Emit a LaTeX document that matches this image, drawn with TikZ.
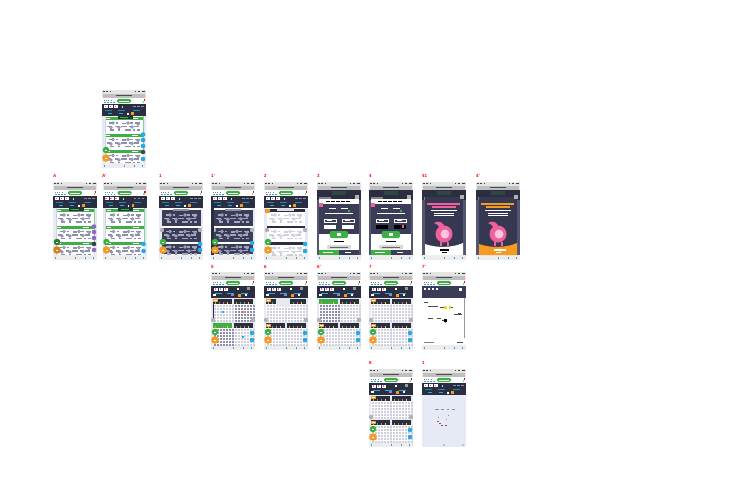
\documentclass[tikz,border=0pt]{standalone}
\usepackage{fontspec}
\setmainfont{Liberation Sans}
\definecolor{dk}{HTML}{2B2D40}
\definecolor{pale}{HTML}{E6EAF5}
\definecolor{gl}{HTML}{8E8FAF}
\definecolor{gn}{HTML}{3CB043}
\definecolor{og}{HTML}{F59A23}
\definecolor{bl}{HTML}{29A9E1}
\definecolor{pk}{HTML}{F0609E}
\definecolor{dp}{HTML}{3A3C58}
\definecolor{pu}{HTML}{8E6CC0}
\definecolor{hat}{HTML}{CFCFDC}
\tikzset{x=1pt,y=-1pt,lbl/.style={text=red,font=\bfseries\fontsize{4.5}{5}\selectfont,inner sep=0pt,anchor=south west}}
% chrome
\newcommand{\chrome}{%
 \fill[white] (0,0) rectangle (44,78);
 \fill[pale] (0,26) rectangle (44,73);
 \fill[black!10] (0,0) rectangle (44,8);
 \fill[black!25] (1,3.5) rectangle (43,7.5);
 \foreach \a/\b in {1/3,4/6,8/9,33/34,36/38,40/43}{\fill[black!75] (\a,1) rectangle (\b,2);}
 \fill[black!70] (14,5) rectangle (30,6);
 \fill[black!7] (0,73) rectangle (44,78);
 \foreach \a in {2,22,32,40}{\fill[bl] (\a,75) rectangle ++(1,1.5);}
}
\newcommand{\headbar}{%
 \fill[gn,rounded corners=1.6pt] (15,8.8) rectangle (29,13);
 \fill[white] (17,10.5) rectangle (27,11.3);
 \foreach \a in {2,4,6,9}{\fill[dk!60] (\a,9.8) rectangle ++(1,.8);}
 \foreach \a in {2,5,8,11}{\fill[bl] (\a,11.5) rectangle ++(1.5,.8);}
 \fill[red] (41.5,9) rectangle (43,10.5);
 \fill[gn!60] (40.5,10.5) rectangle (42,12.5);
}
\newcommand{\darkband}{%
 \fill[dk] (0,14) rectangle (44,26);
 \foreach \a in {2,7,12}{\fill[white] (\a,15) rectangle ++(4,3.2);\fill[pk] (\a+.6,15.6) rectangle ++(1.8,1.5);}
 \fill[white!80!dk] (20,16) rectangle ++(1,2);
 \foreach \a in {31,35,39}{\fill[gl] (\a,16) rectangle ++(2.5,.8);}
 \foreach \a in {3,16,31}{\fill[bl!80!black] (\a,20) rectangle ++(7,.9);}
 \fill[bl] (6,23) rectangle ++(4,.8);\fill[bl] (17,23) rectangle ++(4,.8);
 \fill[og] (29,22) rectangle ++(2.5,2.5);
 \fill[white] (25,23) rectangle ++(1.5,1.5);
}
% glyph block
\newcommand{\glyphs}[3]{%
 \begin{scope}[shift={(#1,#2)}]
  \foreach \dx/\dy/\w in {4/0/3,11/0/2,17/0.5/4,25/0/3,30/0/5,2/3.5/4,10/3.5/3,16/3.5/6,24/3.5/2,29/3.5/5,5/7/4,13/7/2,20/7/6,28/7/2,32/7/3}{\fill[#3] (\dx,\dy) rectangle ++(\w,1.8);}
  \foreach \dx/\dy in {8/1,23/1,14/5.5,27/5,6/5.5,33/2}{\draw[#3,line width=.8pt] (\dx,\dy) circle[radius=1.2];}
 \end{scope}}
\newcommand{\fabs}[3]{%
 \fill[#1] (4,60) circle[radius=3.3];
 \fill[#2] (4,68) circle[radius=3.8];
 \fill[white] (3,59.5) rectangle ++(2,1);
 \fill[white] (3,67.5) rectangle ++(2,1);
 \foreach \yy/\cc in {#3}{\fill[\cc] (41,\yy) circle[radius=2.3];}
}
\newcommand{\listscreen}[3]{%
 \fill[white] (3,26) rectangle (41,73);
 \foreach \yy in {27,44,60}{\fill[gn] (3,\yy) rectangle (41,\yy+3);\fill[white] (4,\yy+1) rectangle ++(4,.7);\fill[white] (30,\yy+1) rectangle ++(6,.7);}
 \fill[dk] (15.5,26) rectangle (30.5,29);
 \fill[gn] (18,27) rectangle ++(8,.8);
 \fill[gl!40] (2.5,26) rectangle (3,73);
 \fill[gn!60] (41,26) rectangle (41.5,62);
 \glyphs{3}{32}{gl}
 \glyphs{3}{48.5}{gl}
 \glyphs{3}{64.5}{gl}
 \fabs{#1}{#2}{#3}
}
\newcommand{\darklist}[2]{%
 \fill[white] (3,26) rectangle (41,73);
 \foreach \a/\b in {28/44,46/60,62/72}{\fill[dp] (2.5,\a) rectangle (41.5,\b);}
 \fill[gl] (14,26.5) rectangle (30,29);
 \glyphs{3}{32}{gl!80}
 \glyphs{3}{48.5}{gl!80}
 \glyphs{3}{64}{gl!80}
 \fill[black!30] (3,48) circle[radius=2.2];
 \fill[black!30] (41,48) circle[radius=2.2];
 #1
 \fabs{gn}{og}{#2}
}
\newcommand{\lightlist}{%
 \fill[white] (3,26) rectangle (41,73);
 \fill[dk] (3,26.8) rectangle (41,29.5);
 \fill[og] (1,27) rectangle (6,30.5);
 \fill[white!70!gl] (13,25.5) rectangle (30,28.5);
 \fill[dk] (3,44) rectangle (41,46);
 \fill[dk] (3,60) rectangle (41,63);
 \glyphs{3}{32}{hat}
 \glyphs{3}{48.5}{hat}
 \glyphs{3}{65}{hat}
 \fill[black!30] (3,48) circle[radius=2.2];
 \fill[black!30] (41,48) circle[radius=2.2];
 \fabs{gn}{og}{62/bl,69/bl}
}
% modal
\newcommand{\overlay}{%
 \fill[dk] (0,8) rectangle (44,73);
 \fill[dk!80!gn] (15,8.8) rectangle (29,13);
 \fill[dk!60] (2,15) rectangle (14,18);
 \fill[black!30] (38,13) rectangle (42,16.5);
 \fill[dp!70!gl] (0,18) rectangle (3,73);\fill[dp!70!gl] (41,18) rectangle (44,73);
}
\newcommand{\modal}[2]{%
 \overlay
 \fill[white] (2,17) rectangle (42,73);
 \fill[dp] (2,22) rectangle (42,52);
 \fill[pk] (2,21) rectangle (5.5,25);
 \foreach \a in {9,14,19,24,29}{\fill[black] (\a,19) rectangle ++(4,.8);}
 \foreach \a/\b in {12/20,24/32}{\fill[white!80] (\a,26) rectangle ++(7,1);}
 \fill[gn] (31,28) rectangle ++(1.5,2);
 \fill[white] (8,31) rectangle ++(28,1);
 \foreach \a/\b in {7/37,25/37}{\draw[white,line width=.5pt] (\a,\b) rectangle ++(12,3.5);}
 \foreach \a/\b in {7/43,25/43}{\fill[#1] (\a,\b) rectangle ++(12,3.5);}
 \fill[white] (10,38.2) rectangle ++(5,1);\fill[white] (28,38.2) rectangle ++(5,1);
 \fill[gn,rounded corners=2pt] (12.7,49) rectangle (31,56);
 \fill[white] (20,50.5) rectangle ++(4,3);
 \fill[black] (17,59) rectangle ++(10,1);
 \fill[black!15,rounded corners=1pt] (10,63) rectangle (34,67);
 \fill[black!60] (13,64.6) rectangle ++(18,.7);
 \fill[gn] (2,68) rectangle (22,73);
 \fill[dp] (22,68) rectangle (42,73);
 \fill[white] (6,70) rectangle ++(10,.7);\fill[white] (28,70) rectangle ++(6,.7);
 #2
}
\newcommand{\bunny}[4]{%
 \overlay
 \fill[dp!70!dk] (3,15) rectangle (41,73);
 \fill[#1] (3,73) -- (3,62) .. controls (14,66) and (30,66) .. (41,61) -- (41,73) -- cycle;
 \foreach \a/\b/\w in {5/21/33,10/24/24}{\fill[#2] (\a,\b) rectangle ++(\w,1.5);}
 \foreach \a/\b/\w in {9/28/26,12/30.5/20,12/33/20}{\fill[white] (\a,\b) rectangle ++(\w,1);}
 \fill[pk] (22,52) circle[radius=8.5];
 \fill[white!65!pk] (23,52) circle[radius=4.5];
 \fill[pk] (12,41) .. controls (16,38) and (22,40) .. (23,46) -- (18,46) .. controls (17,43) and (14,42) .. (12,41);
 \fill[pk] (18,60) rectangle ++(1.5,4);\fill[pk] (25,60) rectangle ++(1.5,4);
 \fill[#3] (18,67) rectangle ++(#4,1.5);\fill[#3] (20,70) rectangle ++(5,1);
 \fill[black!30] (38,13) rectangle (42,16.5);
}
% grid panels
\newcommand{\hatchpanel}[6]{%
 \begin{scope}[shift={(#1,#2)}]
 \fill[white] (0,0) rectangle (#3,#4);
 \foreach \yy in {5.5,8.5,...,#4}{\foreach \xx in {0.5,3.5,...,#3}{\fill[#6] (\xx,\yy) rectangle ++(2.2,2.1);}}
 \fill[#5] (0,0) rectangle (#3,5);
 \fill[og] (2,3) rectangle ++(1,1.5);\fill[gn] (6,3) rectangle ++(1,1.5);\fill[pk] (10,3) rectangle ++(1,1.5);\fill[yellow!90!black] (14,3) rectangle ++(1,1.5);
 \end{scope}}
\newcommand{\gridchrome}{%
 \fill[dk] (0,14) rectangle (44,26);
 \foreach \a in {3,8,13}{\fill[white] (\a,15.5) rectangle ++(4,3);\fill[pk] (\a+.6,16) rectangle ++(1.8,1.5);}
 \fill[white] (26,16) rectangle ++(2,2);\fill[black!40] (36,15) rectangle ++(3,3);
 \foreach \a in {4,16,30}{\fill[bl] (\a,20.5) rectangle ++(7,.8);}
 \fill[bl] (20,21) rectangle ++(2.5,3);\fill[pk] (20,22.5) rectangle ++(2.5,1.5);
 \fill[og] (27,22) rectangle ++(2.5,2.5);\fill[white] (2,22) rectangle ++(3,2);\fill[white] (34,22) rectangle ++(2,2);
}
\newcommand{\gridfabs}{%
 \fill[black!30] (2,48) circle[radius=2.2];
 \fill[black!30] (42,48) circle[radius=2.2];
 \fabs{gn}{og}{61/bl,68/bl}
}
\newcommand{\ogtag}[1]{\fill[og] (2,#1) rectangle (6.5,#1+3);\fill[white] (3,#1+1) rectangle (5.5,#1+2);}
\begin{document}
\begin{tikzpicture}
\useasboundingbox (0,0) rectangle (751,501);
\fill[white] (0,0) rectangle (751,501);
% row 0
\begin{scope}[shift={(102,90)}]\chrome\headbar\darkband\listscreen{gn}{og}{44.5/bl,50/bl,56/bl,62/gl!50!black,69/bl}\end{scope}
% row 1
\begin{scope}[shift={(53,182)}]\chrome\headbar\darkband\fill[dk] (0,14) rectangle (1,26);\listscreen{gn!70!black}{og!85!black}{44.5/pu,50/pu,56/pu,62/dp,68/pu}\end{scope}
\begin{scope}[shift={(102.5,182)}]\chrome\headbar\darkband\listscreen{gn}{og}{62/bl,69/bl}\end{scope}
\begin{scope}[shift={(159,182)}]\chrome\headbar\darkband\darklist{}{62/bl,68/bl}\end{scope}
\begin{scope}[shift={(211,182)}]\chrome\headbar\darkband\darklist{\fill[dk] (0,26) rectangle (2.5,73);}{61/bl,68/bl}\end{scope}
\begin{scope}[shift={(264,182)}]\chrome\headbar\darkband\lightlist\end{scope}
\begin{scope}[shift={(317,182)}]\chrome\modal{white}{}\end{scope}
\begin{scope}[shift={(369,182)}]\chrome\modal{black}{\fill[pk] (33,43) rectangle ++(1.5,3);}\end{scope}
\begin{scope}[shift={(422,182)}]\chrome\bunny{white}{pk}{black}{9}\end{scope}
\begin{scope}[shift={(476,182)}]\chrome\bunny{og}{og}{white}{12}\end{scope}
% row 2
\begin{scope}[shift={(211,272)}]\chrome\headbar\gridchrome
 \hatchpanel{2}{27}{19}{23}{dk}{hat}\hatchpanel{23}{27}{19}{23}{dk}{gl}
 \hatchpanel{2}{51}{19}{22}{gn}{gl}\hatchpanel{23}{51}{19}{22}{dk}{hat}
 \fill[dk] (1.5,27) rectangle (2.3,50);
 \fill[bl] (11,39) rectangle ++(2,2);\fill[og] (32,39) rectangle ++(2,2);\fill[bl] (31,64) rectangle ++(2,1.5);
 \ogtag{27}\gridfabs\end{scope}
\begin{scope}[shift={(264,272)}]\chrome\headbar\gridchrome
 \hatchpanel{2}{27}{19}{23}{dk}{hat}\hatchpanel{23}{27}{19}{23}{dk}{hat}
 \hatchpanel{2}{51}{19}{22}{dk}{hat}\hatchpanel{23}{51}{19}{22}{dk}{hat}
 \fill[white!80!gl] (12,26) rectangle (26,35);
 \ogtag{27}\ogtag{52}\gridfabs\end{scope}
\begin{scope}[shift={(317,272)}]\chrome\headbar\gridchrome
 \hatchpanel{2}{27}{19}{23}{gn}{gl}\hatchpanel{23}{27}{19}{23}{dk}{hat}
 \hatchpanel{2}{51}{19}{22}{dk}{hat}\hatchpanel{23}{51}{19}{22}{dk}{hat}
 \ogtag{52}\gridfabs\end{scope}
\begin{scope}[shift={(369,272)}]\chrome\headbar\gridchrome
 \hatchpanel{2}{27}{19}{23}{dk}{hat}\hatchpanel{23}{27}{19}{23}{dk}{hat}
 \hatchpanel{2}{51}{19}{22}{dk}{hat}\hatchpanel{23}{51}{19}{22}{dk}{hat}
 \ogtag{27}\ogtag{52}\gridfabs\end{scope}
\begin{scope}[shift={(422,272)}]\chrome\headbar
 \fill[white] (0,26) rectangle (44,73);
 \fill[dp] (0,14) rectangle (44,26);
 \foreach \a in {2,6,10,14}{\fill[white] (\a,16) rectangle ++(2,2);}
 \fill[white] (37,16) rectangle ++(3,3);
 \foreach \a/\b/\w in {2/30/4,6/34/10,18/35/5,28/35/3,6/46/5,15/46/4,20/48/3,36/41/3,32/42/8}{\fill[black!70] (\a,\b) rectangle ++(\w,.8);}
 \fill[yellow!90!black] (22,34) rectangle ++(3,3);\fill[yellow!90!black] (27,34) rectangle ++(2,3);
 \fill[black] (22,47) rectangle ++(3,3);\fill[pk] (23,50) rectangle ++(1,1);
 \fill[black!40] (41.5,26) rectangle (42.3,66);
 \fill[black!50] (2,70) rectangle ++(10,.7);\fill[black!70] (35,70) rectangle ++(6,.7);
\end{scope}
% row 3
\begin{scope}[shift={(369,369)}]\chrome\headbar\gridchrome
 \hatchpanel{2}{27}{19}{23}{dk}{hat}\hatchpanel{23}{27}{19}{23}{dk}{hat}
 \hatchpanel{2}{51}{19}{22}{dk}{hat}\hatchpanel{23}{51}{19}{22}{dk}{hat}
 \ogtag{27}\ogtag{52}\gridfabs\end{scope}
\begin{scope}[shift={(422,369)}]\chrome\headbar\darkband
 \fill[pale] (0,26) rectangle (44,78);
 \foreach \a/\b/\w in {13/40/4,19/40/3,25/40/2,30/40/3,16/48/1,26/46/1,24/50/1}{\fill[gl] (\a,\b) rectangle ++(\w,.8);}
 \foreach \a/\b in {15/52,17/54,19/56,23/56}{\fill[pk!70!black] (\a,\b) rectangle ++(1.5,.8);}
 \fill[bl!50] (21,75) rectangle ++(2,1.5);\fill[bl!50] (40,75) rectangle ++(2,1.5);
\end{scope}
% labels
\foreach \n/\t/\xx/\yy in {a/A/53/178,b/A'/102/178,c/1/159/178,d/1'/211/178,e/2/264/178,f/3/317/178,g/4/369/178,h/41/422/178,i/4'/476/178,j/5/211/269,k/6/264/269,l/6'/317/269,m/7/369/269,n/7'/422/269,o/8/369/365,p/1/422/365}
 \node[lbl] (lab-\n) at (\xx,\yy) {\t};
\end{tikzpicture}
\end{document}
